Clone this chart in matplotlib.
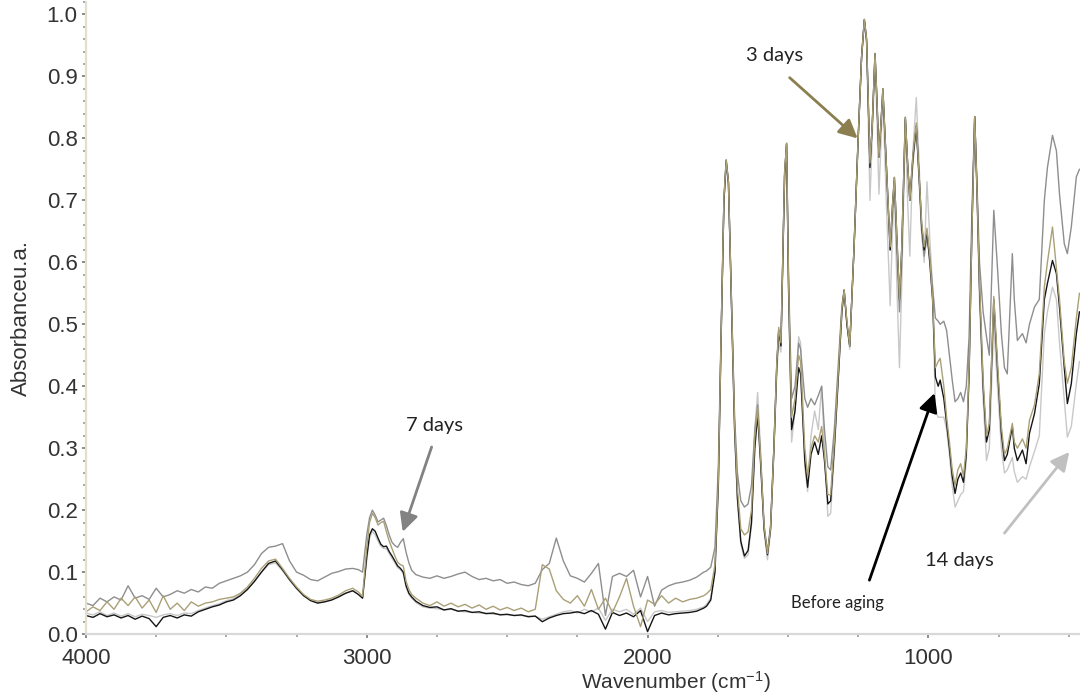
import matplotlib
matplotlib.use("Agg")
import matplotlib.pyplot as plt
from matplotlib.ticker import MultipleLocator, FormatStrFormatter

plt.rcParams['font.family'] = ['Liberation Sans', 'DejaVu Sans']
plt.rcParams['mathtext.default'] = 'regular'

# wavenumber grid (cm-1), descending
wavenumber = [
    # 4000-3050
    4000, 3975, 3950, 3925, 3900, 3875, 3850, 3825, 3800, 3775,
    3750, 3725, 3700, 3675, 3650, 3625, 3600, 3575, 3550, 3525,
    3500, 3475, 3450, 3425, 3400, 3375, 3350, 3325, 3300, 3275,
    3250, 3225, 3200, 3175, 3150, 3125, 3100, 3075, 3050,
    # C-H stretch
    3030, 3015, 3000, 2990, 2980, 2970, 2960, 2950, 2940, 2930,
    2920, 2910, 2900, 2890, 2880, 2870, 2860, 2850, 2840, 2825,
    # 2800-1800
    2800, 2775, 2750, 2725, 2700, 2675, 2650, 2625, 2600, 2575,
    2550, 2525, 2500, 2475, 2450, 2425, 2400, 2375, 2350, 2325,
    2300, 2275, 2250, 2225, 2200, 2175, 2150, 2125, 2100, 2075,
    2050, 2025, 2000, 1975, 1950, 1925, 1900, 1875, 1850, 1825,
    1800,
    # fingerprint
    1790, 1775, 1760, 1748, 1738, 1728, 1720, 1712, 1700, 1690,
    1680, 1668, 1655, 1642, 1630, 1618, 1608, 1598, 1585, 1573,
    1562, 1550, 1540, 1533, 1525, 1512, 1505, 1498, 1487, 1475,
    1462, 1455, 1440, 1430, 1418, 1405, 1392, 1380, 1370, 1358,
    1348, 1335, 1320, 1308, 1300, 1290, 1280, 1265, 1250, 1238,
    1228, 1220, 1208, 1200, 1190, 1183, 1176, 1168, 1162, 1150,
    1136, 1128, 1121, 1112, 1103, 1095, 1082, 1074, 1066, 1055,
    1043, 1033, 1024, 1015, 1005, 995, 985, 975, 965, 958,
    945, 935, 925, 915, 905, 895, 885, 875, 865, 855,
    845, 835, 827, 818, 805, 793, 783, 767, 754, 740,
    729, 719, 701, 694, 683, 665, 652, 640, 622, 605,
    587, 576, 558, 544, 533, 516, 505, 491, 473, 462,
]

before_aging = [
    0.030, 0.027, 0.033, 0.028, 0.031, 0.026, 0.030, 0.024, 0.029, 0.025,
    0.012, 0.027, 0.030, 0.026, 0.031, 0.029, 0.036, 0.040, 0.044, 0.047,
    0.052, 0.055, 0.062, 0.072, 0.085, 0.100, 0.114, 0.118, 0.104, 0.088,
    0.074, 0.062, 0.054, 0.050, 0.052, 0.055, 0.060, 0.066, 0.070,
    0.064, 0.058, 0.125, 0.160, 0.170, 0.166, 0.155, 0.145, 0.141, 0.142,
    0.133, 0.126, 0.118, 0.110, 0.106, 0.100, 0.078, 0.066, 0.060, 0.053,
    0.046, 0.043, 0.044, 0.039, 0.041, 0.037, 0.038, 0.035, 0.036, 0.033,
    0.034, 0.031, 0.032, 0.030, 0.031, 0.028, 0.029, 0.020, 0.026, 0.030,
    0.033, 0.034, 0.036, 0.033, 0.038, 0.032, 0.008, 0.035, 0.030, 0.034,
    0.028, 0.038, 0.004, 0.030, 0.034, 0.031, 0.033, 0.034, 0.035, 0.037,
    0.042,
    0.045, 0.055, 0.100, 0.240, 0.480, 0.700, 0.765, 0.730, 0.510, 0.330,
    0.220, 0.150, 0.126, 0.135, 0.180, 0.300, 0.355, 0.280, 0.170, 0.128,
    0.170, 0.300, 0.430, 0.490, 0.465, 0.740, 0.792, 0.560, 0.330, 0.360,
    0.430, 0.420, 0.280, 0.237, 0.290, 0.310, 0.290, 0.320, 0.280, 0.210,
    0.215, 0.300, 0.420, 0.520, 0.555, 0.500, 0.465, 0.620, 0.800, 0.930,
    0.992, 0.960, 0.753, 0.820, 0.937, 0.860, 0.770, 0.830, 0.880, 0.760,
    0.620, 0.690, 0.737, 0.640, 0.540, 0.620, 0.834, 0.760, 0.700, 0.770,
    0.820, 0.740, 0.660, 0.620, 0.650, 0.600, 0.540, 0.415, 0.400, 0.410,
    0.380, 0.340, 0.300, 0.255, 0.227, 0.250, 0.260, 0.245, 0.290, 0.420,
    0.650, 0.835, 0.720, 0.560, 0.400, 0.310, 0.330, 0.540, 0.430, 0.324,
    0.280, 0.290, 0.335, 0.300, 0.280, 0.297, 0.275, 0.324, 0.356, 0.404,
    0.540, 0.566, 0.603, 0.582, 0.527, 0.430, 0.372, 0.404, 0.485, 0.520,
]

days_3 = [
    0.036, 0.044, 0.038, 0.052, 0.040, 0.058, 0.046, 0.060, 0.042, 0.055,
    0.035, 0.062, 0.040, 0.050, 0.038, 0.052, 0.045, 0.050, 0.052, 0.056,
    0.058, 0.060, 0.066, 0.076, 0.090, 0.106, 0.118, 0.121, 0.106, 0.090,
    0.076, 0.064, 0.056, 0.053, 0.055, 0.058, 0.063, 0.070, 0.074,
    0.068, 0.061, 0.140, 0.180, 0.195, 0.188, 0.176, 0.180, 0.182, 0.165,
    0.150, 0.138, 0.126, 0.116, 0.112, 0.110, 0.085, 0.072, 0.064, 0.058,
    0.050, 0.046, 0.052, 0.045, 0.050, 0.044, 0.048, 0.042, 0.047, 0.040,
    0.045, 0.039, 0.043, 0.038, 0.042, 0.036, 0.040, 0.112, 0.105, 0.070,
    0.056, 0.050, 0.062, 0.045, 0.072, 0.040, 0.058, 0.035, 0.060, 0.090,
    0.045, 0.012, 0.055, 0.048, 0.062, 0.050, 0.058, 0.052, 0.056, 0.058,
    0.062,
    0.065, 0.072, 0.112, 0.250, 0.485, 0.705, 0.765, 0.730, 0.515, 0.340,
    0.235, 0.170, 0.160, 0.165, 0.200, 0.320, 0.365, 0.290, 0.175, 0.130,
    0.172, 0.300, 0.435, 0.495, 0.470, 0.745, 0.792, 0.570, 0.350, 0.380,
    0.450, 0.440, 0.300, 0.255, 0.300, 0.320, 0.310, 0.335, 0.290, 0.225,
    0.225, 0.310, 0.430, 0.525, 0.555, 0.505, 0.465, 0.620, 0.800, 0.930,
    0.992, 0.960, 0.760, 0.820, 0.937, 0.860, 0.770, 0.830, 0.880, 0.760,
    0.625, 0.690, 0.737, 0.640, 0.540, 0.620, 0.834, 0.760, 0.700, 0.775,
    0.825, 0.740, 0.665, 0.625, 0.655, 0.610, 0.545, 0.430, 0.440, 0.445,
    0.400, 0.350, 0.310, 0.265, 0.240, 0.265, 0.275, 0.255, 0.300, 0.430,
    0.650, 0.835, 0.720, 0.570, 0.410, 0.320, 0.340, 0.545, 0.440, 0.335,
    0.290, 0.300, 0.340, 0.310, 0.300, 0.315, 0.300, 0.345, 0.370, 0.420,
    0.560, 0.600, 0.657, 0.590, 0.540, 0.440, 0.405, 0.430, 0.510, 0.550,
]

days_7 = [
    0.050, 0.046, 0.058, 0.052, 0.060, 0.055, 0.078, 0.058, 0.062, 0.056,
    0.074, 0.060, 0.064, 0.070, 0.066, 0.072, 0.068, 0.076, 0.074, 0.082,
    0.086, 0.090, 0.094, 0.100, 0.112, 0.130, 0.140, 0.142, 0.146, 0.118,
    0.100, 0.095, 0.088, 0.086, 0.092, 0.098, 0.101, 0.105, 0.106,
    0.104, 0.100, 0.160, 0.188, 0.200, 0.192, 0.181, 0.184, 0.187, 0.175,
    0.160, 0.148, 0.143, 0.140, 0.148, 0.154, 0.132, 0.115, 0.103, 0.096,
    0.092, 0.090, 0.094, 0.090, 0.093, 0.097, 0.100, 0.093, 0.088, 0.090,
    0.086, 0.088, 0.082, 0.084, 0.080, 0.078, 0.082, 0.104, 0.114, 0.155,
    0.118, 0.094, 0.090, 0.084, 0.098, 0.114, 0.030, 0.093, 0.098, 0.093,
    0.103, 0.060, 0.093, 0.045, 0.071, 0.078, 0.082, 0.084, 0.087, 0.092,
    0.100,
    0.102, 0.108, 0.140, 0.270, 0.490, 0.700, 0.760, 0.725, 0.520, 0.350,
    0.260, 0.215, 0.205, 0.210, 0.240, 0.330, 0.370, 0.290, 0.175, 0.132,
    0.175, 0.305, 0.435, 0.490, 0.470, 0.745, 0.790, 0.580, 0.380, 0.400,
    0.470, 0.460, 0.380, 0.366, 0.380, 0.370, 0.385, 0.400, 0.330, 0.270,
    0.265, 0.330, 0.440, 0.530, 0.555, 0.500, 0.465, 0.620, 0.800, 0.930,
    0.990, 0.955, 0.760, 0.820, 0.935, 0.860, 0.770, 0.830, 0.875, 0.760,
    0.620, 0.680, 0.730, 0.620, 0.520, 0.600, 0.830, 0.760, 0.700, 0.760,
    0.820, 0.730, 0.650, 0.610, 0.640, 0.610, 0.560, 0.510, 0.505, 0.500,
    0.505, 0.490, 0.450, 0.410, 0.375, 0.380, 0.390, 0.375, 0.400, 0.480,
    0.680, 0.835, 0.730, 0.600, 0.520, 0.480, 0.450, 0.684, 0.592, 0.485,
    0.430, 0.420, 0.614, 0.540, 0.474, 0.485, 0.470, 0.500, 0.528, 0.540,
    0.700, 0.753, 0.805, 0.780, 0.710, 0.630, 0.614, 0.657, 0.738, 0.750,
]

days_14 = [
    0.034, 0.031, 0.036, 0.030, 0.034, 0.029, 0.033, 0.028, 0.032, 0.030,
    0.027, 0.031, 0.033, 0.030, 0.034, 0.033, 0.038, 0.042, 0.046, 0.049,
    0.054, 0.057, 0.064, 0.073, 0.086, 0.100, 0.112, 0.115, 0.102, 0.087,
    0.073, 0.062, 0.055, 0.051, 0.053, 0.056, 0.061, 0.066, 0.070,
    0.064, 0.058, 0.120, 0.155, 0.166, 0.160, 0.150, 0.142, 0.138, 0.138,
    0.130, 0.122, 0.115, 0.107, 0.104, 0.098, 0.076, 0.064, 0.058, 0.051,
    0.044, 0.042, 0.041, 0.039, 0.040, 0.037, 0.036, 0.035, 0.034, 0.034,
    0.032, 0.032, 0.031, 0.030, 0.030, 0.029, 0.029, 0.024, 0.028, 0.032,
    0.036, 0.038, 0.034, 0.040, 0.036, 0.042, 0.022, 0.040, 0.036, 0.040,
    0.032, 0.042, 0.020, 0.036, 0.038, 0.035, 0.036, 0.037, 0.038, 0.040,
    0.044,
    0.048, 0.058, 0.105, 0.240, 0.480, 0.700, 0.762, 0.728, 0.505, 0.325,
    0.215, 0.145, 0.122, 0.128, 0.175, 0.330, 0.390, 0.300, 0.165, 0.120,
    0.165, 0.295, 0.420, 0.470, 0.455, 0.740, 0.790, 0.560, 0.310, 0.360,
    0.480, 0.470, 0.270, 0.230, 0.320, 0.360, 0.330, 0.400, 0.300, 0.190,
    0.195, 0.290, 0.420, 0.520, 0.555, 0.500, 0.460, 0.620, 0.800, 0.930,
    0.990, 0.955, 0.700, 0.800, 0.930, 0.830, 0.710, 0.800, 0.870, 0.700,
    0.530, 0.650, 0.720, 0.560, 0.430, 0.560, 0.830, 0.700, 0.610, 0.780,
    0.866, 0.760, 0.650, 0.600, 0.730, 0.640, 0.560, 0.360, 0.350, 0.350,
    0.350, 0.330, 0.290, 0.240, 0.205, 0.215, 0.225, 0.230, 0.280, 0.420,
    0.650, 0.835, 0.710, 0.540, 0.380, 0.280, 0.300, 0.500, 0.400, 0.300,
    0.260, 0.265, 0.285, 0.262, 0.245, 0.254, 0.250, 0.270, 0.295, 0.320,
    0.485, 0.520, 0.560, 0.540, 0.470, 0.377, 0.318, 0.335, 0.404, 0.440,
]

for s in (before_aging, days_3, days_7, days_14):
    assert len(s) == len(wavenumber)

fig = plt.figure(figsize=(10.8, 6.93), dpi=100)
ax = fig.add_axes([0.0796, 0.085, 0.9204, 0.912])

ax.plot(wavenumber, days_14, color='#c8c8c8', lw=1.0)
ax.plot(wavenumber, days_7, color='#8e8e8e', lw=1.0)
ax.plot(wavenumber, before_aging, color='#151515', lw=1.0)
ax.plot(wavenumber, days_3, color='#aaa077', lw=1.0)

ax.set_xlim(4000, 460)
ax.set_ylim(0, 1.02)

ax.set_xticks([4000, 3000, 2000, 1000])
ax.xaxis.set_minor_locator(MultipleLocator(250))
ax.yaxis.set_major_locator(MultipleLocator(0.1))
ax.yaxis.set_minor_locator(MultipleLocator(0.02))
ax.yaxis.set_major_formatter(FormatStrFormatter('%.1f'))
ax.tick_params(axis='both', which='major', labelsize=16, labelcolor='#333333',
               length=3, width=1.2, color='#777777', pad=3)
ax.tick_params(axis='x', which='major', pad=7)
ax.tick_params(axis='both', which='minor', length=2, width=1.2, color='#999999')

for side in ('top', 'right'):
    ax.spines[side].set_visible(False)
ax.spines['left'].set_color('#e2dfcf')
ax.spines['left'].set_linewidth(1.6)
ax.spines['bottom'].set_color('#d8d8d8')
ax.spines['bottom'].set_linewidth(1.6)

ax.set_ylabel('Absorbanceu.a.', fontsize=16, color='#333333')
ax.yaxis.set_label_coords(-0.054, 0.5)
ax.set_xlabel('Wavenumber (cm$^{-1}$)', fontsize=15, color='#333333')
ax.xaxis.set_label_coords(0.593, -0.055)

# labels and arrows for each aging time
note_font = ['Lato', 'DejaVu Sans']
arrows = [
    ((1494, 0.898), (1252, 0.800), '#8b7f50'),
    ((2769, 0.302), (2872, 0.165), '#828282'),
    ((1210, 0.087), (978, 0.389), '#000000'),
    ((729, 0.163), (498, 0.294), '#c0c0c0'),
]
for start, tip, col in arrows:
    ax.annotate('', xy=tip, xytext=start,
                arrowprops=dict(arrowstyle='-|>,head_length=0.8,head_width=0.4',
                                color=col, lw=2, mutation_scale=14,
                                shrinkA=0, shrinkB=0))

ax.text(1548, 0.934, '3 days', fontsize=14.5, color='#222222',
        ha='center', va='center', family=note_font)
ax.text(2758, 0.337, '7 days', fontsize=14.5, color='#222222',
        ha='center', va='center', family=note_font)
ax.text(1324, 0.050, 'Before aging', fontsize=12, color='#222222',
        ha='center', va='center', family=note_font)
ax.text(890, 0.119, '14 days', fontsize=14.5, color='#222222',
        ha='center', va='center', family=note_font)

fig.savefig('out.png', dpi=100)
